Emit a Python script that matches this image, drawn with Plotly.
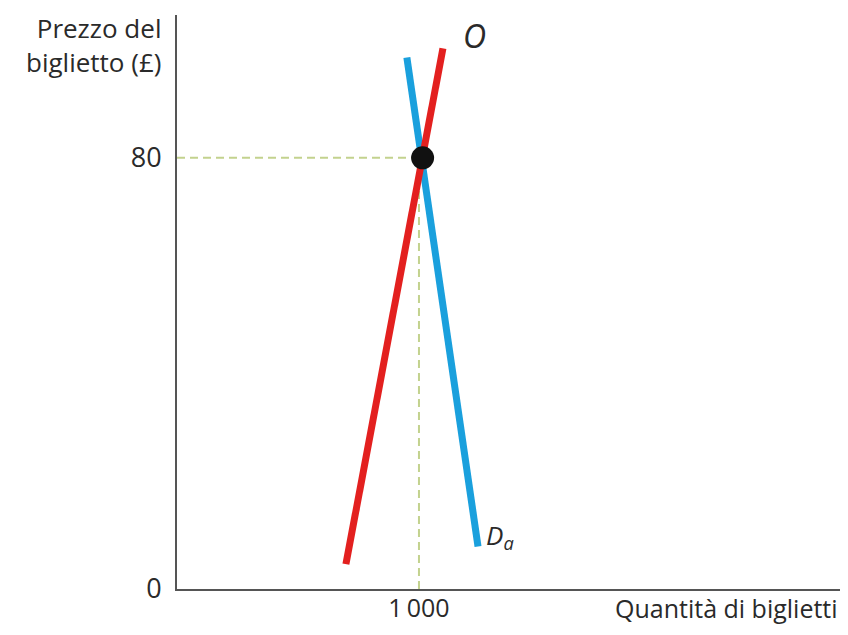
import plotly.graph_objects as go

# Data
supply_q = [698, 1099]        # curva di offerta O
supply_p = [4.6, 100.3]
demand_q = [950, 1244]        # curva di domanda D_a
demand_p = [98.6, 7.9]
eq_q = 1000                   # quantità di equilibrio (etichetta)
eq_p = 80                     # prezzo di equilibrio
dot_q = [1015]
dot_p = [80]
y_ticks = [0, 80]
y_ticktext = ["0", "80"]
x_ticks = [1000]
x_ticktext = ["1\u2009000"]

FONT = "Open Sans"
TXT = "#2a2a2a"
guide = "#c3d28e"

fig = go.Figure()
fig.add_trace(go.Scatter(x=[0, eq_q + 15], y=[eq_p, eq_p], mode="lines",
                         line=dict(color=guide, width=2, dash="8px,5px"), hoverinfo="skip"))
fig.add_trace(go.Scatter(x=[eq_q, eq_q], y=[0, eq_p], mode="lines",
                         line=dict(color=guide, width=2, dash="8px,5px"), hoverinfo="skip"))
fig.add_trace(go.Scatter(x=demand_q, y=demand_p, mode="lines",
                         line=dict(color="#1aa0dd", width=7)))
fig.add_trace(go.Scatter(x=supply_q, y=supply_p, mode="lines",
                         line=dict(color="#e3201f", width=7)))
fig.add_trace(go.Scatter(x=dot_q, y=dot_p, mode="markers",
                         marker=dict(color="#111111", size=23)))

# the page body has an 8px margin, so the figure is kept small enough
# to fit in the 848x635 window without scrollbars
fig.update_layout(
    width=832, height=619,
    margin=dict(l=169, r=0, t=7, b=38),
    paper_bgcolor="white", plot_bgcolor="white",
    showlegend=False,
    font=dict(family=FONT, size=27, color=TXT),
    xaxis=dict(range=[0, 2740], showgrid=False, zeroline=False, automargin=False,
               showline=True, linecolor="#555555", linewidth=2,
               tickvals=x_ticks, ticktext=x_ticktext,
               ticks="", ticklabelstandoff=-4,
               tickfont=dict(family=FONT, size=25, color=TXT)),
    yaxis=dict(range=[0, 106.5], showgrid=False, zeroline=False, automargin=False,
               showline=True, linecolor="#555555", linewidth=2,
               tickvals=y_ticks, ticktext=y_ticktext,
               ticks="outside", ticklen=8, tickcolor="rgba(0,0,0,0)",
               tickfont=dict(family=FONT, size=27, color=TXT)),
)

fig.add_annotation(text="Prezzo del<br>biglietto (£)", xref="paper", yref="paper",
                   x=0, y=1, xanchor="right", yanchor="middle", align="right",
                   xshift=-14, yshift=-30, showarrow=False,
                   font=dict(family=FONT, size=26, color=TXT))
fig.add_annotation(text="Quantità di biglietti", xref="paper", yref="paper",
                   x=1, y=0, xanchor="right", yanchor="middle",
                   yshift=-19, showarrow=False,
                   font=dict(family=FONT, size=25, color=TXT))
fig.add_annotation(text="<i>O</i>", x=supply_q[1], y=supply_p[1], xref="x", yref="y",
                   xanchor="left", yanchor="middle", xshift=18, yshift=13,
                   showarrow=False, font=dict(family=FONT, size=32, color=TXT))
fig.add_annotation(text="<i>D</i><sub><i>a</i></sub>", x=demand_q[1], y=demand_p[1], xref="x", yref="y",
                   xanchor="left", yanchor="middle", xshift=6, yshift=10,
                   showarrow=False, font=dict(family=FONT, size=26, color=TXT))

fig.write_html("out.html")
